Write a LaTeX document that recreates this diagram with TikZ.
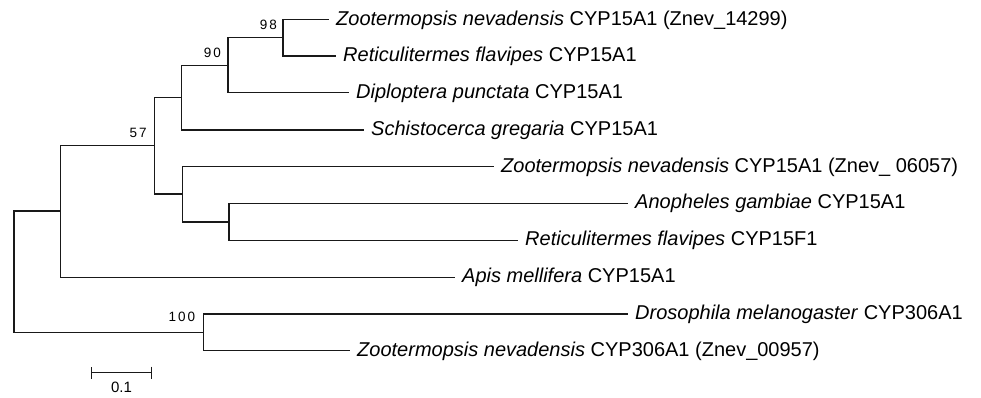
\documentclass[tikz,border=0pt]{standalone}
\usepackage{fontspec}
\setmainfont{Liberation Sans}
\usetikzlibrary{arrows.meta}
\begin{document}
\begin{tikzpicture}[x=1pt,y=-1pt,
  branch/.style={line width=1.5pt, draw=black!90},
  leaf/.style={anchor=west, inner xsep=7pt, inner ysep=0pt, font=\fontsize{20}{24}\selectfont, text height=15pt, text depth=4pt},
  boot/.style={anchor=base east, inner sep=0pt, font=\fontsize{13.5}{15}\selectfont\addfontfeature{LetterSpace=15}},
]
\useasboundingbox (0,0) rectangle (981,397);
% internal nodes
\coordinate (root) at (14,271.7);
\coordinate (nD) at (60.7,211);
\coordinate (n57) at (154.3,145.7);
\coordinate (nA) at (181.7,97.3);
\coordinate (n90) at (228,65.3);
\coordinate (n98) at (283,37.7);
\coordinate (nB) at (182.7,194);
\coordinate (nC) at (229,222);
\coordinate (n100) at (203.3,332.3);
% leaves
\node[leaf] (l1) at (329,19.5) {\textit{Zootermopsis nevadensis} CYP15A1 (Znev\_14299)};
\node[leaf] (l2) at (336,56) {\textit{Reticulitermes flavipes} CYP15A1};
\node[leaf] (l3) at (349,92.7) {\textit{Diploptera punctata} CYP15A1};
\node[leaf] (l4) at (364,130) {\textit{Schistocerca gregaria} CYP15A1};
\node[leaf] (l5) at (494,166.7) {\textit{Zootermopsis nevadensis} CYP15A1 (Znev\_ 06057)};
\node[leaf] (l6) at (628,203.3) {\textit{Anopheles gambiae} CYP15A1};
\node[leaf] (l7) at (518,240.3) {\textit{Reticulitermes flavipes} CYP15F1};
\node[leaf] (l8) at (455,277.3) {\textit{Apis mellifera} CYP15A1};
\node[leaf] (l9) at (628,314) {\textit{Drosophila melanogaster} CYP306A1};
\node[leaf] (l10) at (350,350.7) {\textit{Zootermopsis nevadensis} CYP306A1 (Znev\_00957)};
% branches
\draw[branch] (root) |- (nD);
\draw[branch] (root) |- (n100);
\draw[branch] (nD) |- (n57);
\draw[branch] (nD) |- (l8.west);
\draw[branch] (n57) |- (nA);
\draw[branch] (n57) |- (nB);
\draw[branch] (nA) |- (n90);
\draw[branch] (nA) |- (l4.west);
\draw[branch] (n90) |- (n98);
\draw[branch] (n90) |- (l3.west);
\draw[branch] (n98) |- (l1.west);
\draw[branch] (n98) |- (l2.west);
\draw[branch] (nB) |- (l5.west);
\draw[branch] (nB) |- (nC);
\draw[branch] (nC) |- (l6.west);
\draw[branch] (nC) |- (l7.west);
\draw[branch] (n100) |- (l9.west);
\draw[branch] (n100) |- (l10.west);
% bootstrap values
\node[boot] (b98) at ([xshift=-6pt,yshift=8.5pt]n98) {98};
\node[boot] (b90) at ([xshift=-7pt,yshift=8pt]n90) {90};
\node[boot] (b57) at ([xshift=-7.5pt,yshift=8.5pt]n57) {57};
\node[boot] (b100) at ([xshift=-8pt,yshift=10.5pt]n100) {100};
% scale bar
\coordinate (s1) at (90.7,372.7);
\coordinate (s2) at (152.3,372.7);
\draw[branch, {Bar[width=12pt]}-{Bar[width=12pt]}] (s1) -- (s2);
\node[anchor=base, inner sep=0pt, font=\fontsize{15}{17}\selectfont] (sl) at (121.5,392.5) {0.1};
\end{tikzpicture}
\end{document}
